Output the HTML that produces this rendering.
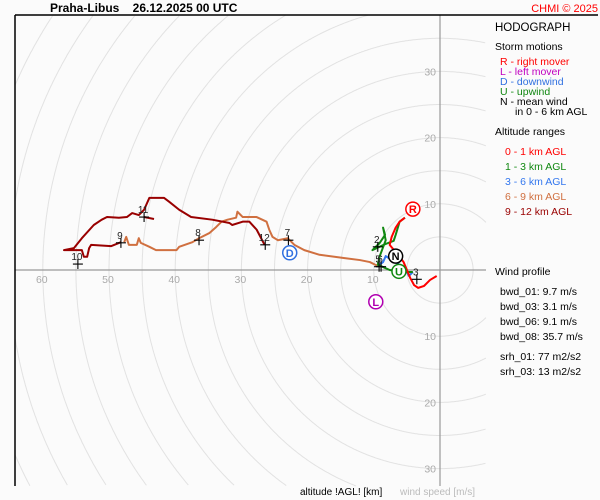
<!DOCTYPE html>
<html><head><meta charset="utf-8"><style>
html,body{margin:0;padding:0;width:600px;height:500px;overflow:hidden;background:#fbfbfb;}
svg{display:block;font-family:"Liberation Sans",sans-serif;}
</style></head><body>
<svg id="chart" width="600" height="500" viewBox="0 0 600 500">
<rect x="0" y="0" width="600" height="500" fill="#fbfbfb"/>
<g id="rings"></g>
<g id="axes"></g>
<g id="series"></g>
<g id="marks"></g>
<g id="storms"></g>
<line x1="15" y1="15" x2="598" y2="15" stroke="#000" stroke-width="1.5"/>
<line x1="15" y1="15" x2="15" y2="486" stroke="#000" stroke-width="1.5"/>
<text x="50" y="12" font-size="12" font-weight="bold">Praha-Libus&#160;&#160;&#160;&#160;26.12.2025 00 UTC</text>
<text x="598" y="12" font-size="11" fill="#ff0000" text-anchor="end">CHMI © 2025</text>
<g font-size="10.5">
<text x="495" y="31" font-size="11.5">HODOGRAPH</text>
<text x="495" y="50">Storm motions</text>
<text x="500" y="65" fill="#ff0000">R - right mover</text>
<text x="500" y="75" fill="#c000c0">L - left mover</text>
<text x="500" y="85" fill="#3070e0">D - downwind</text>
<text x="500" y="95" fill="#118811">U - upwind</text>
<text x="500" y="105" fill="#000">N - mean wind</text>
<text x="515" y="115">in 0 - 6 km AGL</text>
<text x="495" y="135">Altitude ranges</text>
<text x="505" y="155" fill="#ff0000">0 - 1 km AGL</text>
<text x="505" y="170" fill="#118811">1 - 3 km AGL</text>
<text x="505" y="185" fill="#3377ee">3 - 6 km AGL</text>
<text x="505" y="200" fill="#d07040">6 - 9 km AGL</text>
<text x="505" y="215" fill="#990000">9 - 12 km AGL</text>
<text x="495" y="275">Wind profile</text>
<text x="500" y="295">bwd_01: 9.7 m/s</text>
<text x="500" y="310">bwd_03: 3.1 m/s</text>
<text x="500" y="325">bwd_06: 9.1 m/s</text>
<text x="500" y="340">bwd_08: 35.7 m/s</text>
<text x="500" y="360">srh_01: 77 m2/s2</text>
<text x="500" y="375">srh_03: 13 m2/s2</text>
</g>
<text x="300" y="495" font-size="10">altitude !AGL! [km]</text>
<text x="400" y="495" font-size="10" fill="#bbb">wind speed [m/s]</text>
</svg>
<script>
const ringSpeeds=[5,10,15,20,25,30,35,40,45,50,55,60,65,70,75];
const xTickLabels=[10,20,30,40,50,60];
const yTickLabels=[30,20,10,-10,-20,-30];
const red01=[[-0.5,-0.9],[-1.5,-1.5],[-2.4,-2.4],[-3.3,-2.7],[-3.9,-2.3],[-4.5,-1.2],[-5.0,0],[-5.5,1.2],[-6.1,2.0],[-6.7,2.7],[-7.6,3.8],[-7.3,5.0],[-6.7,6.4],[-6.1,7.3],[-5.3,7.9]];
const green13=[[-5.3,7.9],[-6.1,7.3],[-6.7,5.3],[-7.0,4.4],[-8.3,3.9],[-10.2,3.0],[-9.1,4.1],[-8.3,5.3],[-8.6,6.4],[-8.2,4.5],[-9.1,2.1],[-9.4,0.8],[-7.6,0],[-5.3,-0.3],[-4.1,-0.3]];
const blue36=[[-4.1,-0.3],[-4.7,-0.9],[-5.3,0.3],[-6.8,1.2],[-8.2,2.1],[-8.6,1.2],[-9.4,0.6]];
const orange69=[[-9.4,0.6],[-10.6,1.2],[-12.1,1.5],[-14.4,1.8],[-18.2,2.3],[-20.5,3.0],[-22.0,3.8],[-23.0,4.8],[-24.5,4.5],[-25.3,5.0],[-25.8,6.1],[-26.2,7.3],[-27.7,8.0],[-29.8,8.0],[-30.6,8.8],[-30.8,7.9],[-32.1,7.6],[-33.0,7.3],[-33.8,6.5],[-34.8,5.6],[-36.4,4.8],[-37.4,4.2],[-39.4,3.5],[-39.8,3.0],[-42.9,3.0],[-43.9,3.5],[-45.2,4.1],[-45.5,4.8],[-45.8,3.8],[-47.0,3.8],[-47.4,5.0],[-47.7,4.2]];
const darkred912=[[-48.2,4.2],[-49.7,3.6],[-52.7,3.8],[-53.0,3.3],[-53.3,2.0],[-53.8,2.0],[-54.1,3.0],[-56.8,3.0],[-55.3,3.3],[-54.1,4.8],[-52.3,6.8],[-51.1,7.6],[-50.3,8.0],[-48.5,7.9],[-47.3,8.0],[-46.5,8.6],[-45.5,8.3],[-44.7,9.1],[-43.9,10.9],[-41.7,10.9],[-40.9,10.3],[-39.4,9.1],[-37.6,8.0],[-34.4,7.6],[-31.8,7.1],[-31.4,6.8],[-29.8,7.3],[-28.8,7.3],[-27.7,6.1],[-26.5,3.8]];
const darkredTail=[[-44.7,8.0],[-43.2,7.7]];
const markerLabels=["2","3","5","6","7","8","9","10","11","12"];
const markerU=[-9.4,-3.5,-9.2,-8.9,-22.9,-36.4,-48.2,-54.7,-44.7,-26.4];
const markerV=[3.5,-1.4,0.5,0.5,4.5,4.5,4.1,0.9,8.0,3.8];
const stormLetters=["R","L","D","U","N"];
const stormU=[-4.1,-9.7,-22.7,-6.2,-6.7];
const stormV=[9.2,-4.8,2.6,-0.2,2.1];
const stormColors=["#ff0000","#b000b0","#3070e0","#118811","#000000"];

const CX=440, CY=270, K=6.62;
const X0=15,X1=486,Y0=15,Y1=486;
const sx=u=>CX+u*K, sy=v=>CY-v*K;
const NS="http://www.w3.org/2000/svg";
function mk(tag,parent,attrs){const e=document.createElementNS(NS,tag);for(const k in attrs)e.setAttribute(k,attrs[k]);parent.appendChild(e);return e;}

const rings=document.getElementById('rings');
ringSpeeds.forEach(s=>{
  const r=s*K;let d='',pen=false;
  for(let a=0;a<=1440;a++){
    const t=a/1440*2*Math.PI;
    const x=CX+r*Math.cos(t),y=CY+r*Math.sin(t);
    const inside=x>=X0&&x<=X1&&y>=Y0&&y<=Y1;
    if(inside){d+=(pen?'L':'M')+x.toFixed(1)+','+y.toFixed(1);pen=true;}else pen=false;
  }
  if(!d) return;
  const c=mk('path',rings,{d:d,fill:'none',stroke:'#e2e2e2','stroke-width':1});
  
  
});
const axes=document.getElementById('axes');
const ha=mk('line',axes,{x1:15,y1:CY,x2:486,y2:CY,stroke:'#999','stroke-width':1.2});


const va=mk('line',axes,{x1:CX,y1:15,x2:CX,y2:486,stroke:'#999','stroke-width':1.2});


xTickLabels.forEach(t=>{
  const e=mk('text',axes,{x:sx(-t)-1,y:CY+13,'font-size':10.5,fill:'#aaa','text-anchor':'middle'});
  e.textContent=t;
  
  
});
yTickLabels.forEach(t=>{
  const e=mk('text',axes,{x:CX-4,y:sy(t)+4,'font-size':10.5,fill:'#aaa','text-anchor':'end'});
  e.textContent=Math.abs(t);
  
  
});
const series=document.getElementById('series');
function line(data,color,name){
  const p=mk('polyline',series,{points:data.map(d=>sx(d[0])+','+sy(d[1])).join(' '),fill:'none',stroke:color,'stroke-width':2,'stroke-linejoin':'round'});
  
  
}
line(orange69,'#d07040','series-6-9km');
line(darkred912,'#990000','series-9-12km');
line(darkredTail,'#990000','series-9-12km-tail');
line(blue36,'#3377ee','series-3-6km');
line(green13,'#118811','series-1-3km');
line(red01,'#ff0000','series-0-1km');
const marks=document.getElementById('marks');
markerLabels.forEach((l,i)=>{
  const x=sx(markerU[i]),y=sy(markerV[i]);
  const g=mk('g',marks,{});
  
  
  mk('path',g,{d:`M${x-5},${y}H${x+5}M${x},${y-5}V${y+5}`,stroke:'#000','stroke-width':1.1});
  const t=mk('text',g,{x:x-1,y:y-4,'font-size':10,'text-anchor':'middle',fill:'#222'});
  t.textContent=l;
});
const storms=document.getElementById('storms');
stormLetters.forEach((l,i)=>{
  const x=sx(stormU[i]),y=sy(stormV[i]);
  const g=mk('g',storms,{});
  
  
  mk('circle',g,{cx:x,cy:y,r:7,fill:'#fff',stroke:stormColors[i],'stroke-width':1.5});
  const t=mk('text',g,{x:x,y:y+4,'font-size':11,'font-weight':'bold','text-anchor':'middle',fill:stormColors[i]});
  t.textContent=l;
});
</script>
</body></html>
